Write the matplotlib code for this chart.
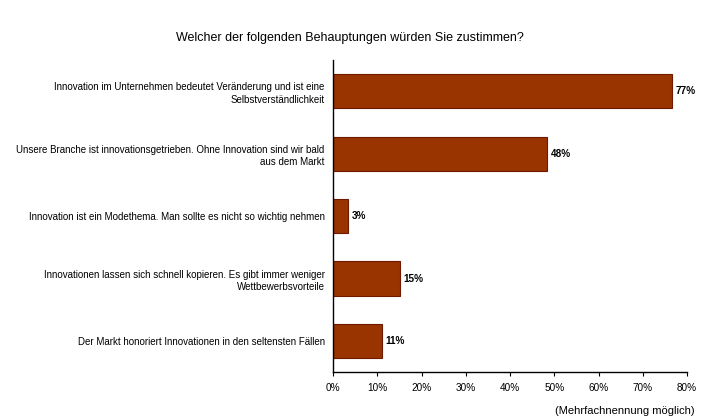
import matplotlib
matplotlib.use("Agg")
import matplotlib.pyplot as plt
from matplotlib.ticker import PercentFormatter

plt.rcParams['font.family'] = ['Liberation Sans', 'DejaVu Sans']

# data
statements = [
    "Innovation im Unternehmen bedeutet Veränderung und ist eine\nSelbstverständlichkeit",
    "Unsere Branche ist innovationsgetrieben. Ohne Innovation sind wir bald\naus dem Markt",
    "Innovation ist ein Modethema. Man sollte es nicht so wichtig nehmen",
    "Innovationen lassen sich schnell kopieren. Es gibt immer weniger\nWettbewerbsvorteile",
    "Der Markt honoriert Innovationen in den seltensten Fällen",
]
shares = [76.6, 48.4, 3.4, 15.1, 11.0]
value_labels = ["77%", "48%", "3%", "15%", "11%"]
x_ticks = [0, 10, 20, 30, 40, 50, 60, 70, 80]

fig = plt.figure(figsize=(7.24, 4.2), dpi=100)
ax = fig.add_axes([0.46, 0.114, 0.489, 0.743])

ypos = list(range(len(statements)))
bars = ax.barh(ypos, shares, height=0.55, color='#993300', edgecolor='#6e1a00', linewidth=0.8)
ax.set_ylim(len(statements) - 0.5, -0.5)
ax.set_xlim(0, 80)
ax.set_xticks(x_ticks)
ax.xaxis.set_major_formatter(PercentFormatter(decimals=0))
ax.set_yticks(ypos)
ax.set_yticklabels(statements, fontsize=7.0, ha='right', multialignment='right', linespacing=1.35)
ax.tick_params(axis='y', length=0, pad=6)
ax.tick_params(axis='x', labelsize=7.2, length=3, width=0.8, direction='out', pad=5)

for spine in ['top', 'right']:
    ax.spines[spine].set_visible(False)
ax.spines['left'].set_linewidth(1.0)
ax.spines['bottom'].set_linewidth(1.0)

for b, txt in zip(bars, value_labels):
    ax.text(b.get_width() + 0.9, b.get_y() + b.get_height() / 2, txt,
            va='center', ha='left', fontsize=7.2, fontweight='bold')

fig.text(0.483, 0.91, "Welcher der folgenden Behauptungen würden Sie zustimmen?",
         ha='center', va='center', fontsize=9)
fig.text(0.96, 0.022, "(Mehrfachnennung möglich)", ha='right', va='center', fontsize=8)

fig.savefig("out.png", dpi=100)
